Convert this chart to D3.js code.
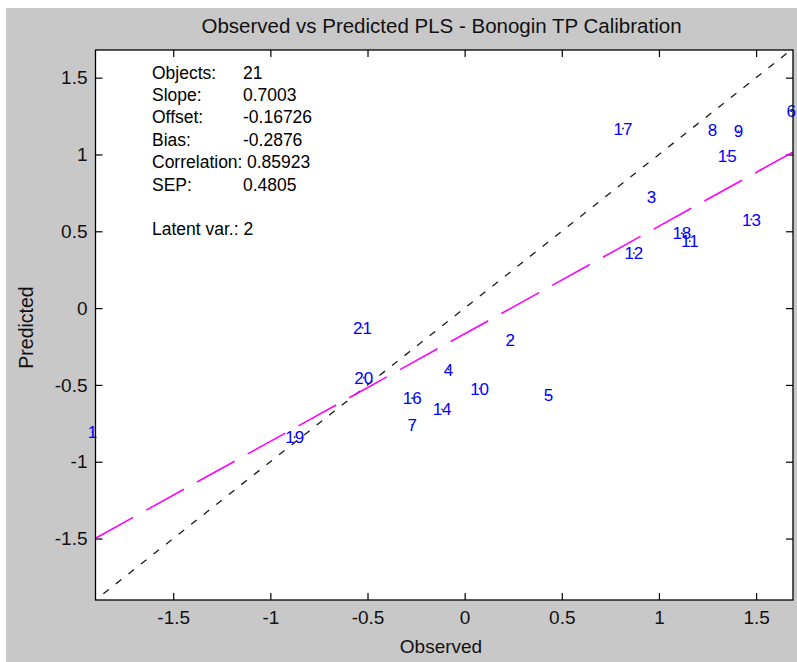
<!DOCTYPE html>
<html>
<head>
<meta charset="utf-8">
<script src="https://cdn.jsdelivr.net/npm/d3@7/dist/d3.min.js"></script>
<style>
  html, body { margin: 0; padding: 0; background: #ffffff; }
  svg { display: block; }
  text { font-family: "Liberation Sans", Arial, Helvetica, sans-serif; }
</style>
</head>
<body>
<script>
// Sample numbers with their observed and PLS-predicted values
const sampleIds = [1, 2, 3, 4, 5, 6, 7, 8, 9, 10, 11, 12, 13, 14, 15, 16, 17, 18, 19, 20, 21];
const observed  = [-1.916, 0.234, 0.961, -0.083, 0.431, 1.681, -0.270, 1.275, 1.410, 0.077, 1.159,
                   0.871, 1.476, -0.116, 1.352, -0.270, 0.815, 1.118, -0.875, -0.519, -0.526];
const predicted = [-0.807, -0.210, 0.722, -0.399, -0.568, 1.282, -0.759, 1.160, 1.152, -0.524, 0.436,
                   0.358, 0.577, -0.659, 0.993, -0.586, 1.169, 0.488, -0.839, -0.453, -0.128];

// Calibration statistics
const statLabels = ["Objects:", "Slope:", "Offset:", "Bias:", "Correlation:", "SEP:"];
const statValues = ["21", "0.7003", "-0.16726", "-0.2876", "0.85923", "0.4805"];
const latentVars = 2;
const slope = 0.7003;
const offset = -0.16726;

// Axis ticks
const tickValues = [-1.5, -1, -0.5, 0, 0.5, 1, 1.5];
const tickLabels = ["-1.5", "-1", "-0.5", "0", "0.5", "1", "1.5"];
const xDomain = [-1.9, 1.69];
const yDomain = [-1.9, 1.68];

const W = 797, H = 662;
const plot = { left: 95.5, right: 793, top: 50, bottom: 600 };

const svg = d3.select("body").append("svg")
  .attr("width", W).attr("height", H);

// Figure background
svg.append("rect").attr("width", W).attr("height", H).attr("fill", "#ffffff");
svg.append("rect").attr("x", 6).attr("y", 8).attr("width", W - 6).attr("height", H - 8)
  .attr("fill", "#c8c8c8");

const x = d3.scaleLinear().domain(xDomain).range([plot.left, plot.right]);
const y = d3.scaleLinear().domain(yDomain).range([plot.bottom, plot.top]);

// Axes area
svg.append("rect")
  .attr("x", plot.left).attr("y", plot.top)
  .attr("width", plot.right - plot.left).attr("height", plot.bottom - plot.top)
  .attr("fill", "#ffffff");

svg.append("clipPath").attr("id", "plot-clip")
  .append("rect")
  .attr("x", plot.left).attr("y", plot.top)
  .attr("width", plot.right - plot.left).attr("height", plot.bottom - plot.top);

const fmt = v => tickLabels[tickValues.indexOf(v)];

function styleAxis(g, withText) {
  g.select(".domain").remove();
  g.selectAll(".tick line").attr("stroke", "#000").attr("stroke-width", 1.2);
  if (withText) {
    g.selectAll(".tick text")
      .attr("fill", "#111")
      .style("font-size", "19px")
      .style("font-family", "'Liberation Sans', Arial, sans-serif");
  } else {
    g.selectAll(".tick text").remove();
  }
}

svg.append("g")
  .attr("transform", `translate(0,${plot.bottom})`)
  .call(d3.axisBottom(x).tickValues(tickValues).tickFormat(fmt)
    .tickSizeInner(-7).tickSizeOuter(0).tickPadding(11))
  .call(g => styleAxis(g, true));

svg.append("g")
  .attr("transform", `translate(${plot.left},0)`)
  .call(d3.axisLeft(y).tickValues(tickValues).tickFormat(fmt)
    .tickSizeInner(-7).tickSizeOuter(0).tickPadding(8))
  .call(g => styleAxis(g, true));

svg.append("g")
  .attr("transform", `translate(0,${plot.top})`)
  .call(d3.axisTop(x).tickValues(tickValues).tickSizeInner(-7).tickSizeOuter(0))
  .call(g => styleAxis(g, false));

svg.append("g")
  .attr("transform", `translate(${plot.right},0)`)
  .call(d3.axisRight(y).tickValues(tickValues).tickSizeInner(-7).tickSizeOuter(0))
  .call(g => styleAxis(g, false));

// Reference lines: target (y = x) and fitted regression
const lines = svg.append("g").attr("clip-path", "url(#plot-clip)");
const lineGen = d3.line().x(d => x(d[0])).y(d => y(d[1]));

lines.append("path")
  .datum([[xDomain[0], xDomain[0]], [xDomain[1], xDomain[1]]])
  .attr("d", lineGen)
  .attr("fill", "none")
  .attr("stroke", "#1a1a1a")
  .attr("stroke-width", 1.3)
  .attr("stroke-dasharray", "7,9")
  .attr("stroke-dashoffset", -10);

lines.append("path")
  .datum([[xDomain[0], slope * xDomain[0] + offset], [xDomain[1], slope * xDomain[1] + offset]])
  .attr("d", lineGen)
  .attr("fill", "none")
  .attr("stroke", "#ff00ff")
  .attr("stroke-width", 1.6)
  .attr("stroke-dasharray", "43,15");

// Samples: a small dot with its number
const samples = sampleIds.map((id, i) => ({ id, obs: observed[i], pred: predicted[i] }));

svg.append("g").selectAll("circle")
  .data(samples).join("circle")
  .attr("cx", d => x(d.obs)).attr("cy", d => y(d.pred))
  .attr("r", 0.9).attr("fill", "#222");

svg.append("g").selectAll("text")
  .data(samples).join("text")
  .attr("x", d => x(d.obs)).attr("y", d => y(d.pred))
  .attr("dy", "0.36em")
  .attr("text-anchor", "middle")
  .attr("fill", "#0000ff")
  .style("font-size", "17px")
  .text(d => d.id);

// Statistics block: labels on the left, values in a column (pushed right past long labels)
const stats = svg.append("g").style("font-size", "17.5px").attr("fill", "#000");
const statX = 152, valX = 243, statY0 = 78.5, statStep = 22.4;
statLabels.forEach((lab, i) => {
  const t = stats.append("text").attr("x", statX).attr("y", statY0 + i * statStep).text(lab);
  const labEnd = statX + t.node().getComputedTextLength();
  stats.append("text")
    .attr("x", Math.max(valX, labEnd + 4.5))
    .attr("y", statY0 + i * statStep)
    .text(statValues[i]);
});
stats.append("text")
  .attr("x", statX).attr("y", statY0 + (statLabels.length + 1) * statStep)
  .text("Latent var.: " + latentVars);

// Box around the axes
svg.append("rect")
  .attr("x", plot.left).attr("y", plot.top)
  .attr("width", plot.right - plot.left).attr("height", plot.bottom - plot.top)
  .attr("fill", "none").attr("stroke", "#000").attr("stroke-width", 1.3);

// Title and axis labels
svg.append("text")
  .attr("x", 441.5).attr("y", 33)
  .attr("text-anchor", "middle")
  .style("font-size", "20.5px").attr("fill", "#111")
  .text("Observed vs Predicted PLS - Bonogin TP Calibration");

svg.append("text")
  .attr("x", 441).attr("y", 653)
  .attr("text-anchor", "middle")
  .style("font-size", "19px").attr("fill", "#111")
  .text("Observed");

svg.append("text")
  .attr("transform", "translate(33,327.5) rotate(-90)")
  .attr("text-anchor", "middle")
  .style("font-size", "19.5px").attr("fill", "#111")
  .text("Predicted");
</script>
</body>
</html>
